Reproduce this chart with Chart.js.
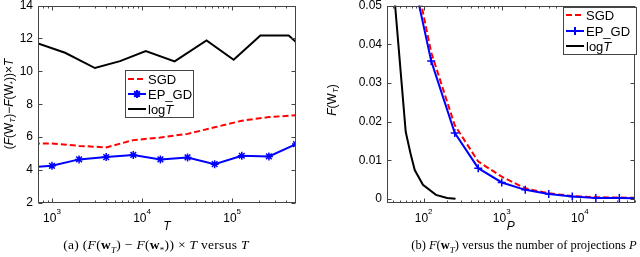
<!DOCTYPE html>
<html>
<head>
<meta charset="utf-8">
<script src="https://cdn.jsdelivr.net/npm/chart.js@4"></script>
<style>
  html, body { margin: 0; padding: 0; background: #fff; }
  #wrap { position: relative; width: 640px; height: 257px; overflow: hidden; }
  canvas { position: absolute; top: 0; }
  #chartA { left: 0; }
  #chartB { left: 320px; }
  .caption { position: absolute; top: 237px; transform: translateX(-50%); font-family: "Liberation Serif", serif; white-space: nowrap; color: #000; }
  .caption sub { font-size: 9px; }
  #capA { left: 156px; font-size: 13.5px; letter-spacing: 0.3px; }
  #capB { left: 524px; font-size: 12.5px; top: 238px; }
</style>
</head>
<body>
<div id="wrap">
  <canvas id="chartA" width="320" height="257"></canvas>
  <canvas id="chartB" width="320" height="257"></canvas>
  <div class="caption" id="capA">(a) (<i>F</i>(<b>w</b><sub><i>T</i></sub>) − <i>F</i>(<b>w</b><sub>*</sub>)) × <i>T</i> versus <i>T</i></div>
  <div class="caption" id="capB">(b) <i>F</i>(<b>w</b><sub><i>T</i></sub>) versus the number of projections <i>P</i></div>
</div>
<script>
// (a) (F(w_T) - F(w_*)) x T versus T
const tValues = [500, 1000, 2000, 4000, 8000, 16000, 32000, 64000, 128000, 256000, 512000];
const sgdA    = [5.62, 5.62, 5.47, 5.38, 5.82, 5.98, 6.2, 6.6, 7.0, 7.22, 7.33];
const epgdA   = [4.14, 4.26, 4.65, 4.79, 4.92, 4.65, 4.77, 4.36, 4.87, 4.83, 5.58];
const logTxA  = [700, 1400, 3000, 5700, 11000, 23000, 52000, 104000, 206000, 425000, 512000];
const logTA   = [11.7, 11.13, 10.2, 10.62, 11.23, 10.6, 11.88, 10.7, 12.18, 12.18, 11.78];
const yTicksA = [2, 4, 6, 8, 10, 12, 14];
const xTicksA = [1e3, 1e4, 1e5];

// (b) F(w_T) versus the number of projections P
const pValues = [62.5, 125, 250, 500, 1000, 2000, 4000, 8000, 16000, 32000, 64000];
const sgdB    = [0.0674, 0.0379, 0.0191, 0.0097, 0.0058, 0.0028, 0.0015, 0.0008, 0.0005, 0.0004, 0.0003];
const epgdB   = [0.0637, 0.0357, 0.0171, 0.0080, 0.0043, 0.0024, 0.0013, 0.0007, 0.0003, 0.0003, 0.0002];
const logTxB  = [40, 59, 68, 77, 98, 144, 200, 256];
const logTB   = [0.058, 0.0174, 0.0118, 0.0075, 0.0037, 0.0011, 0.0003, 0.0001];
const yTicksB = [0, 0.01, 0.02, 0.03, 0.04, 0.05];
const xTicksB = [1e2, 1e3, 1e4];

const seriesLabels = ['SGD', 'EP_GD', 'logT'];

const FONT = '"Liberation Sans", Arial, sans-serif';
const pts = (xs, ys) => xs.map((x, i) => ({ x, y: ys[i] }));

// texte avec italique / indices
function segFont(s, size) {
    return (s.i ? 'italic ' : '') + (s.sub ? Math.round(size * 0.7) : size) + 'px ' + FONT;
}

function richWidth(ctx, segs, size) {
    let w = 0;
    segs.forEach(s => {
        ctx.font = segFont(s, size);
        w += ctx.measureText(s.t).width;
    });
    return w;
}

function drawRich(ctx, segs, x, y, size) {
    segs.forEach(s => {
        ctx.font = segFont(s, size);
        ctx.fillText(s.t, x, s.sub ? y + 3 : y);
        x += ctx.measureText(s.t).width;
    });
}

const legendText = {
    'SGD': [{ t: 'SGD' }],
    'EP_GD': [{ t: 'EP_GD' }],
    'logT': [{ t: 'log' }, { t: 'T', i: true }]
};

// Axes façon MATLAB : cadre, graduations vers l'intérieur, labels 10^n, légende
function axesPlugin(cfg) {
    return {
        id: 'matlabAxes',
        afterDatasetsDraw(chart) {
            const { ctx, chartArea: a, scales: { x, y } } = chart;
            const line = (x1, y1, x2, y2) => {
                ctx.beginPath(); ctx.moveTo(x1, y1); ctx.lineTo(x2, y2); ctx.stroke();
            };
            ctx.save();
            ctx.strokeStyle = '#444';
            ctx.lineWidth = 1;
            ctx.setLineDash([]);
            const L = Math.round(a.left) + 0.5, R = Math.round(a.right) - 0.5;
            const T = Math.round(a.top) + 0.5, B = Math.round(a.bottom) - 0.5;
            ctx.strokeRect(L, T, R - L, B - T);

            cfg.yTicks.forEach(v => {
                const py = Math.round(y.getPixelForValue(v)) + 0.5;
                line(L, py, L + 4, py);
                line(R, py, R - 4, py);
            });

            const e0 = Math.floor(Math.log10(x.min));
            const e1 = Math.ceil(Math.log10(x.max));
            for (let e = e0; e <= e1; e++) {
                for (let m = 1; m < 10; m++) {
                    const v = m * Math.pow(10, e);
                    if (v < x.min || v > x.max) continue;
                    const len = m === 1 ? 4 : 2;
                    const px = Math.round(x.getPixelForValue(v)) + 0.5;
                    line(px, B, px, B - len);
                    line(px, T, px, T + len);
                }
            }

            // labels 10^n
            ctx.fillStyle = '#000';
            ctx.textAlign = 'left';
            ctx.textBaseline = 'alphabetic';
            cfg.xTicks.forEach(v => {
                const px = x.getPixelForValue(v);
                const exp = String(Math.round(Math.log10(v)));
                ctx.font = '12px ' + FONT;
                const w1 = ctx.measureText('10').width;
                ctx.font = '8px ' + FONT;
                const w2 = ctx.measureText(exp).width;
                const start = px - (w1 + w2) / 2;
                ctx.font = '12px ' + FONT;
                ctx.fillText('10', start, a.bottom + 18.5);
                ctx.font = '8px ' + FONT;
                ctx.fillText(exp, start + w1, a.bottom + 11);
            });

            // titre de l'axe y (tourné)
            ctx.save();
            ctx.translate(cfg.yLabel.x, cfg.yLabel.y);
            ctx.rotate(-Math.PI / 2);
            const w = richWidth(ctx, cfg.yLabel.segs, 12);
            ctx.textBaseline = 'middle';
            drawRich(ctx, cfg.yLabel.segs, -w / 2, 0, 12);
            ctx.restore();
            ctx.restore();
        },
        afterDraw(chart) {
            const { ctx } = chart;
            const lg = cfg.legend;
            ctx.save();
            ctx.fillStyle = '#fff';
            ctx.fillRect(lg.x, lg.y, lg.w, lg.h);
            ctx.strokeStyle = '#444';
            ctx.lineWidth = 1;
            ctx.strokeRect(lg.x + 0.5, lg.y + 0.5, lg.w, lg.h);
            chart.data.datasets.forEach((ds, i) => {
                const cy = Math.round(lg.y + lg.first + i * lg.rowH);
                ctx.strokeStyle = ds.borderColor;
                ctx.lineWidth = ds.borderWidth;
                ctx.setLineDash(ds.borderDash || []);
                ctx.beginPath();
                ctx.moveTo(lg.x + 3, cy);
                ctx.lineTo(lg.x + 21, cy);
                ctx.stroke();
                ctx.setLineDash([]);
                if (ds.pointRadius) {
                    Chart.helpers.drawPoint(ctx, {
                        pointStyle: ds.pointStyle,
                        radius: ds.pointRadius,
                        borderWidth: ds.pointBorderWidth
                    }, lg.x + 12, cy);
                }
                ctx.fillStyle = '#000';
                ctx.textBaseline = 'middle';
                ctx.textAlign = 'left';
                drawRich(ctx, legendText[ds.label], lg.x + 23, cy + 1, 13);
            });
            ctx.restore();
        }
    };
}

function makeChart(id, c) {
    const datasets = [
        {
            label: seriesLabels[0], data: c.sgd, order: 3,
            borderColor: '#ff0000', borderWidth: 2, borderDash: [6, 3],
            pointRadius: 0
        },
        {
            label: seriesLabels[1], data: c.epgd, order: 2,
            borderColor: '#0000ff', borderWidth: 2,
            pointRadius: 4, pointStyle: c.marker, pointBorderWidth: 1.5,
            pointBorderColor: '#0000ff', pointBackgroundColor: '#0000ff'
        },
        {
            label: seriesLabels[2], data: c.logT, order: 1,
            borderColor: '#000000', borderWidth: 2,
            pointRadius: 0
        }
    ];

    return new Chart(document.getElementById(id), {
        type: 'line',
        data: { datasets },
        options: {
            responsive: false,
            animation: false,
            events: [],
            layout: { padding: c.padding },
            elements: { line: { tension: 0 } },
            scales: {
                x: {
                    type: 'logarithmic',
                    min: c.xMin, max: c.xMax,
                    grid: { display: false, drawTicks: false },
                    border: { display: false },
                    ticks: { display: false },
                    title: {
                        display: true, text: c.xTitle,
                        font: { family: FONT, size: 12, style: 'italic' },
                        color: '#000', padding: { top: 0, bottom: 0 }
                    },
                    afterFit: s => { s.height = 31; s.paddingLeft = 0; s.paddingRight = 0; }
                },
                y: {
                    type: 'linear',
                    min: c.yMin, max: c.yMax,
                    grid: { display: false, drawTicks: false },
                    border: { display: false },
                    ticks: {
                        padding: 5, color: '#000',
                        font: { family: FONT, size: 12 },
                        callback: c.yFormat
                    },
                    afterBuildTicks: s => { s.ticks = c.yTicks.map(v => ({ value: v })); },
                    afterFit: s => { s.width = c.yWidth; s.paddingTop = 0; s.paddingBottom = 0; }
                }
            },
            plugins: {
                legend: { display: false },
                tooltip: { enabled: false }
            }
        },
        plugins: [axesPlugin(c)]
    });
}

makeChart('chartA', {
    sgd: pts(tValues, sgdA),
    epgd: pts(tValues, epgdA),
    logT: pts(logTxA, logTA),
    marker: 'star',
    xMin: 700, xMax: 512000,
    yMin: 2, yMax: 14,
    yTicks: yTicksA, xTicks: xTicksA,
    yFormat: v => String(v),
    xTitle: 'T',
    padding: { left: 0, top: 5, right: 24, bottom: 23 },
    yWidth: 38,
    yLabel: {
        x: 10, y: 104,
        segs: [{ t: '(' }, { t: 'F', i: true }, { t: '(W' }, { t: 'T', i: true, sub: true },
               { t: ')\u2212' }, { t: 'F', i: true }, { t: '(W' }, { t: '*', sub: true },
               { t: '))\u00d7' }, { t: 'T', i: true }]
    },
    legend: { x: 125, y: 70, w: 68, h: 47, first: 9, rowH: 15 }
});

makeChart('chartB', {
    sgd: pts(pValues, sgdB),
    epgd: pts(pValues, epgdB),
    logT: pts(logTxB, logTB),
    marker: 'cross',
    xMin: 34, xMax: 50000,
    yMin: -0.001, yMax: 0.05,
    yTicks: yTicksB, xTicks: xTicksB,
    yFormat: v => (v === 0 ? '0' : v.toFixed(2)),
    xTitle: 'P',
    padding: { left: 0, top: 5, right: 3, bottom: 23 },
    yWidth: 67,
    yLabel: {
        x: 13, y: 100,
        segs: [{ t: 'F', i: true }, { t: '(W' }, { t: 'T', i: true, sub: true }, { t: ')' }]
    },
    legend: { x: 243, y: 7, w: 73, h: 47, first: 8, rowH: 15.5 }
});
</script>
</body>
</html>
